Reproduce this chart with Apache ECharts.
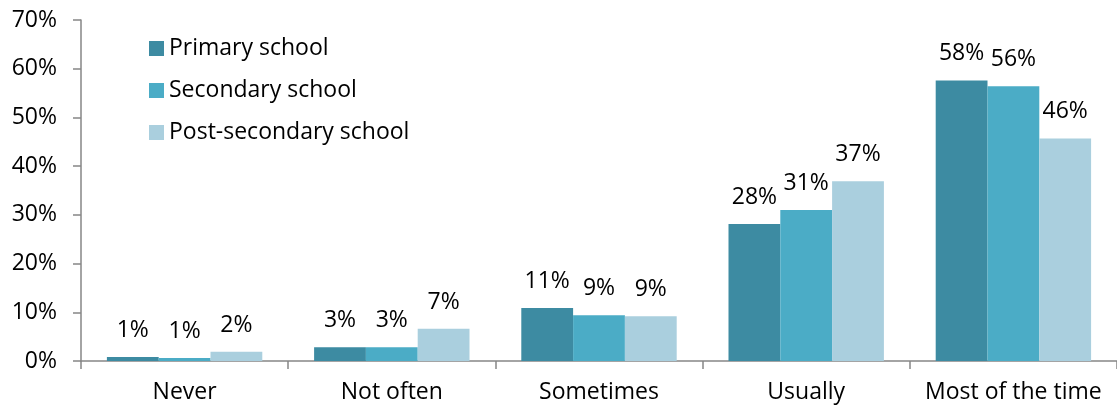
<!DOCTYPE html>
<html>
<head>
<meta charset="utf-8">
<script src="https://cdn.jsdelivr.net/npm/echarts@6/dist/echarts.min.js"></script>
<style>
  html, body { margin: 0; padding: 0; background: #fff; }
  #chart { width: 1117px; height: 410px; }
</style>
</head>
<body>
<div id="chart"></div>
<script>
// 类别和数据
const categories = ['Never', 'Not often', 'Sometimes', 'Usually', 'Most of the time'];
const seriesNames = ['Primary school', 'Secondary school', 'Post-secondary school'];
const primaryValues = [0.8, 2.8, 10.9, 28.1, 57.6];
const secondaryValues = [0.6, 2.8, 9.4, 31.0, 56.4];
const postSecondaryValues = [1.9, 6.6, 9.2, 36.9, 45.7];
const colors = ['#3D8BA2', '#4BACC6', '#AACFDE'];

const font = '"Open Sans", Lato, sans-serif';
const fontSize = 23;

function makeSeries(name, values, color) {
    return {
        name: name,
        type: 'bar',
        data: values,
        barGap: '0%',
        barCategoryGap: '25%',
        itemStyle: { color: color },
        label: {
            show: true,
            position: 'top',
            distance: 15,
            color: '#000',
            fontFamily: font,
            fontSize: fontSize,
            formatter: p => Math.round(p.value) + '%'
        }
    };
}

const chart = echarts.init(document.getElementById('chart'));
const option = {
    animation: false,
    grid: { left: 81, right: 0, top: 20, bottom: 49 },
    legend: {
        orient: 'vertical',
        left: 149,
        top: 37,
        padding: 0,
        itemWidth: 15,
        itemHeight: 15,
        itemGap: 19,
        icon: 'rect',
        textStyle: { fontFamily: font, fontSize: fontSize, color: '#000' },
        data: seriesNames
    },
    xAxis: {
        type: 'category',
        data: categories,
        axisLine: { lineStyle: { color: '#868686', width: 1.5 } },
        axisTick: { show: true, interval: 0, length: 8, lineStyle: { color: '#868686', width: 1.5 } },
        axisLabel: { interval: 0, hideOverlap: false, margin: 20, color: '#000', fontFamily: font, fontSize: fontSize }
    },
    yAxis: {
        type: 'value',
        min: 0,
        max: 70,
        interval: 10,
        splitLine: { show: false },
        axisLine: { show: true, lineStyle: { color: '#868686', width: 1.5 } },
        axisTick: { show: true, length: 8, lineStyle: { color: '#868686', width: 1.5 } },
        axisLabel: { margin: 24, color: '#000', fontFamily: font, fontSize: fontSize, formatter: '{value}%' }
    },
    series: [
        makeSeries(seriesNames[0], primaryValues, colors[0]),
        makeSeries(seriesNames[1], secondaryValues, colors[1]),
        makeSeries(seriesNames[2], postSecondaryValues, colors[2])
    ]
};
chart.setOption(option);
</script>
</body>
</html>
